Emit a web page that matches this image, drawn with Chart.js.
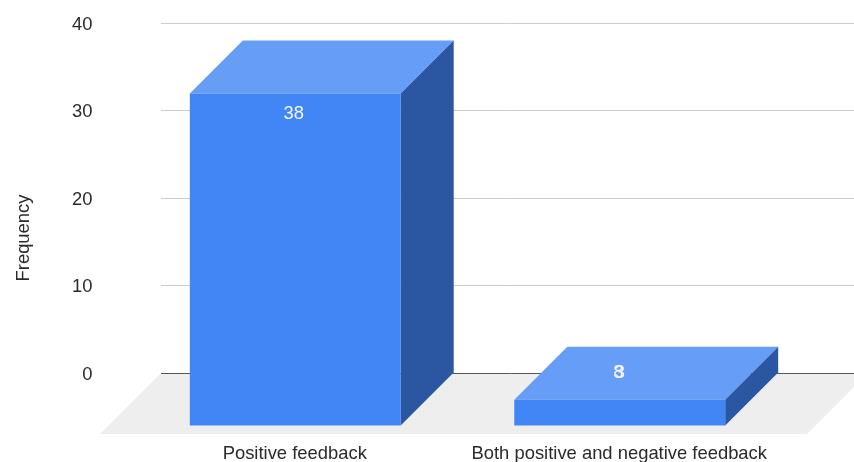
<!DOCTYPE html>
<html>
<head>
<meta charset="utf-8">
<style>
html, body { margin: 0; padding: 0; background: #fff; overflow: hidden; }
</style>
<script src="https://cdn.jsdelivr.net/npm/chart.js@4"></script>
</head>
<body>
<canvas id="feedbackChart" width="854" height="462"></canvas>
<script>
const categories = ['Positive feedback', 'Both positive and negative feedback'];
const frequency = [38, 3];
const valueLabels = [['38'], ['8', '3']];
const yTicks = [0, 10, 20, 30, 40];

const DEPTH = 53;
const FONT = '"Liberation Sans", Arial, sans-serif';
const FONT_SIZE = 18.4;
const TEXT = '#2a2a2a';

// fake 3d: the axes are the back wall, the bars are pushed forward by DEPTH
const box3d = {
    id: 'box3d',
    beforeDraw(chart) {
        const ctx = chart.ctx;
        const area = chart.chartArea;
        const zero = chart.scales.y.getPixelForValue(0);
        ctx.save();
        ctx.fillStyle = '#eeeeee';
        ctx.beginPath();
        ctx.moveTo(area.left - 25, zero);
        ctx.lineTo(chart.width + 14, zero);
        ctx.lineTo(chart.width - 47, zero + 61);
        ctx.lineTo(area.left - 86, zero + 61);
        ctx.closePath();
        ctx.fill();
        ctx.restore();
    },
    beforeDatasetsDraw(chart) {
        const ctx = chart.ctx;
        const area = chart.chartArea;
        ctx.save();
        // grid lines run on to the edge of the page
        yTicks.forEach(t => {
            const y = Math.round(chart.scales.y.getPixelForValue(t) - 0.5) + 0.5;
            ctx.strokeStyle = t === 0 ? '#555555' : '#cccccc';
            ctx.lineWidth = 1;
            ctx.beginPath();
            ctx.moveTo(area.right, y);
            ctx.lineTo(chart.width, y);
            ctx.stroke();
        });
        chart.getDatasetMeta(0).data.forEach(bar => {
            const left = bar.x - bar.width / 2 - DEPTH;
            const right = bar.x + bar.width / 2 - DEPTH;
            const top = bar.y + DEPTH;
            const bottom = bar.base + DEPTH;
            ctx.fillStyle = '#669df6';
            ctx.beginPath();
            ctx.moveTo(left, top);
            ctx.lineTo(left + DEPTH, top - DEPTH);
            ctx.lineTo(right + DEPTH, top - DEPTH);
            ctx.lineTo(right, top);
            ctx.closePath();
            ctx.fill();
            ctx.fillStyle = '#2b57a2';
            ctx.beginPath();
            ctx.moveTo(right, top);
            ctx.lineTo(right + DEPTH, top - DEPTH);
            ctx.lineTo(right + DEPTH, bottom - DEPTH);
            ctx.lineTo(right, bottom);
            ctx.closePath();
            ctx.fill();
        });
        ctx.restore();
    },
    beforeDatasetDraw(chart) {
        chart.ctx.save();
        chart.ctx.translate(-DEPTH, DEPTH);
    },
    afterDatasetDraw(chart) {
        chart.ctx.restore();
    },
    afterDatasetsDraw(chart) {
        const ctx = chart.ctx;
        ctx.save();
        ctx.font = FONT_SIZE + 'px ' + FONT;
        ctx.textAlign = 'center';
        ctx.textBaseline = 'middle';
        ctx.fillStyle = '#f4f7fe';
        chart.getDatasetMeta(0).data.forEach((bar, i) => {
            const frontTop = bar.y + DEPTH;
            const frontHeight = bar.base - bar.y;
            // short bars carry the label on the top face
            const y = frontHeight > 40 ? frontTop + 20 : frontTop - DEPTH + 26;
            // second label of a bar sits almost on top of the first
            valueLabels[i].forEach((txt, j) => ctx.fillText(txt, bar.x - DEPTH - 1.5 + j * 1.5, y));
        });
        // axis title
        ctx.fillStyle = TEXT;
        ctx.translate(23.5, 238);
        ctx.rotate(-Math.PI / 2);
        ctx.fillText('Frequency', 0, 0);
        ctx.restore();
    }
};

new Chart(document.getElementById('feedbackChart').getContext('2d'), {
    type: 'bar',
    data: {
        labels: categories,
        datasets: [{
            label: 'Frequency',
            data: frequency,
            backgroundColor: '#4285f4',
            categoryPercentage: 1,
            barPercentage: 0.65,
            clip: false
        }]
    },
    options: {
        responsive: false,
        animation: false,
        layout: { padding: { top: 23, right: 19 } },
        plugins: {
            legend: { display: false },
            tooltip: { enabled: false }
        },
        scales: {
            x: {
                grid: { display: false },
                border: { display: false },
                afterFit(scale) {
                    scale.height = 89;
                    scale.paddingLeft = 0;
                    scale.paddingRight = 0;
                },
                ticks: {
                    color: TEXT,
                    font: { size: FONT_SIZE, family: FONT },
                    maxRotation: 0,
                    autoSkip: false,
                    padding: 62,
                    labelOffset: -DEPTH - 0.5
                }
            },
            y: {
                min: 0,
                max: 40,
                afterFit(scale) {
                    scale.width = 186;
                    scale.paddingTop = 0;
                    scale.paddingBottom = 0;
                },
                afterBuildTicks(scale) { scale.ticks = yTicks.map(v => ({ value: v })); },
                border: { display: false },
                grid: {
                    tickLength: 25,
                    lineWidth: 1,
                    color: c => c.tick && c.tick.value === 0 ? '#555555' : '#cccccc'
                },
                ticks: {
                    color: TEXT,
                    font: { size: FONT_SIZE, family: FONT },
                    padding: 68.5,
                    labelOffset: 1.5
                }
            }
        }
    },
    plugins: [box3d]
});
</script>
</body>
</html>
